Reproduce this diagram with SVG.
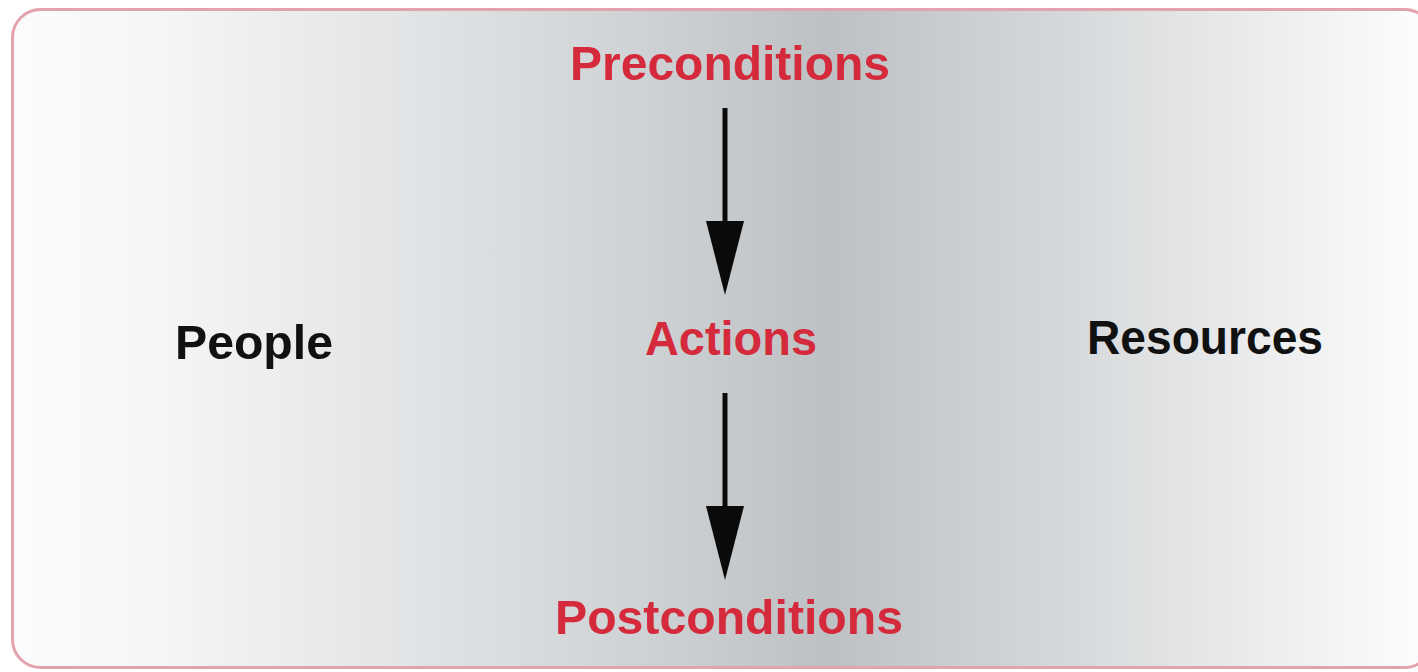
<svg xmlns="http://www.w3.org/2000/svg" width="1418" height="672" viewBox="0 0 1418 672">
  <defs>
    <!-- soft horizontal shading of the panel: light at the edges, darker right of centre -->
    <linearGradient id="panelShade" gradientUnits="userSpaceOnUse" x1="12" y1="0" x2="1418" y2="0">
      <stop offset="0" stop-color="#fdfcfc"/>
      <stop offset="0.1" stop-color="#f6f6f6"/>
      <stop offset="0.26" stop-color="#e4e6e8"/>
      <stop offset="0.45" stop-color="#cfd2d4"/>
      <stop offset="0.58" stop-color="#bec1c3"/>
      <stop offset="0.76" stop-color="#d7dadc"/>
      <stop offset="0.9" stop-color="#eeeeef"/>
      <stop offset="1" stop-color="#fdfcfc"/>
    </linearGradient>
    <marker id="arrowHead" markerUnits="userSpaceOnUse" viewBox="0 -19 74 38"
            markerWidth="74" markerHeight="38" refX="0" refY="0" orient="auto">
      <path d="M0,-19 L74,0 L0,19 Z" fill="#0a0a0a"/>
    </marker>
    <style>
      .label { font-family: "Liberation Sans", Arial, sans-serif; font-weight: bold; font-size: 49px; text-anchor: middle; }
      .step { fill: #d42a3c; }
      .side { fill: #111111; }
      .flow { stroke: #0a0a0a; stroke-width: 5; fill: none; marker-end: url(#arrowHead); }
    </style>
  </defs>

  <rect id="panel" x="12.5" y="9.5" width="1420" height="658" rx="28" ry="28"
        fill="url(#panelShade)" stroke="#e2a3ac" stroke-width="3"/>

  <g id="connectors">
    <path class="flow" d="M725,108 L725,221"/>
    <path class="flow" d="M725,393 L725,506"/>
  </g>

  <g id="preconditions">
    <text class="label step" x="730" y="80" textLength="320" lengthAdjust="spacingAndGlyphs">Preconditions</text>
  </g>
  <g id="actions">
    <text class="label step" x="731" y="355" textLength="172" lengthAdjust="spacingAndGlyphs">Actions</text>
  </g>
  <g id="postconditions">
    <text class="label step" x="729" y="634" textLength="348" lengthAdjust="spacingAndGlyphs">Postconditions</text>
  </g>
  <g id="people">
    <text class="label side" x="254" y="359" textLength="158" lengthAdjust="spacingAndGlyphs">People</text>
  </g>
  <g id="resources">
    <text class="label side" x="1205" y="354" textLength="236" lengthAdjust="spacingAndGlyphs">Resources</text>
  </g>
</svg>
